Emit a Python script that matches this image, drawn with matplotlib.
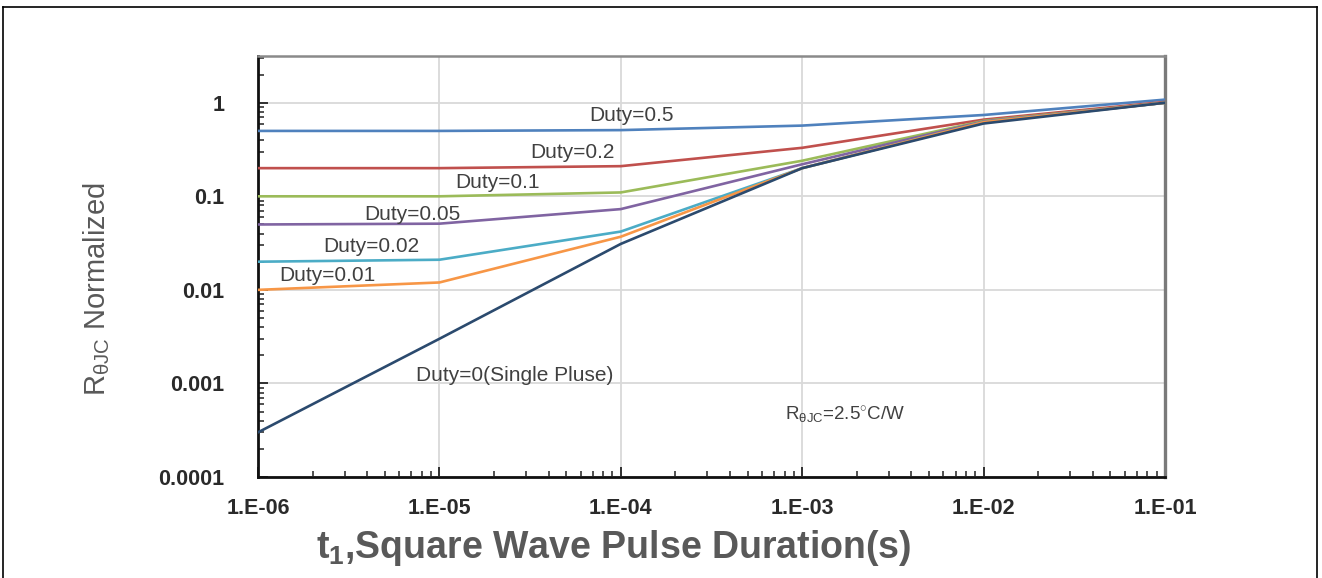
import numpy as np
import matplotlib
matplotlib.use('Agg')
import matplotlib.pyplot as plt
from matplotlib.lines import Line2D
from matplotlib.ticker import LogLocator, FixedLocator, NullFormatter

plt.rcParams['font.family'] = ['Liberation Sans', 'DejaVu Sans']
plt.rcParams['mathtext.fontset'] = 'custom'
plt.rcParams['mathtext.rm'] = 'Liberation Sans'
plt.rcParams['mathtext.it'] = 'Liberation Sans:italic'
plt.rcParams['mathtext.bf'] = 'Liberation Sans:bold'

# pulse duration (s)
pulse_t = [1e-6, 1e-5, 1e-4, 1e-3, 1e-2, 1e-1]

# normalised thermal impedance per duty cycle
duty_05 = [0.5, 0.5, 0.51, 0.57, 0.74, 1.08]
duty_02 = [0.2, 0.2, 0.21, 0.33, 0.66, 1.02]
duty_01 = [0.1, 0.1, 0.11, 0.24, 0.64, 1.0]
duty_005 = [0.05, 0.051, 0.073, 0.22, 0.63, 1.0]
duty_002 = [0.02, 0.021, 0.042, 0.2, 0.62, 1.0]
duty_001 = [0.01, 0.012, 0.037, 0.2, 0.62, 1.0]
duty_0 = [0.0003, 0.003, 0.031, 0.2, 0.6, 1.0]

series_names = ['Duty=0.5', 'Duty=0.2', 'Duty=0.1', 'Duty=0.05',
                'Duty=0.02', 'Duty=0.01', 'Duty=0(Single Pluse)']

xtick_vals = [1e-6, 1e-5, 1e-4, 1e-3, 1e-2, 1e-1]
xtick_labels = ['1.E-06', '1.E-05', '1.E-04', '1.E-03', '1.E-02', '1.E-01']
ytick_vals = [1e-4, 1e-3, 1e-2, 1e-1, 1]
ytick_labels = ['0.0001', '0.001', '0.01', '0.1', '1']

colors = ['#4F81BD', '#C0504D', '#9BBB59', '#8064A2', '#4BACC6', '#F79646', '#2B4A6E']

# label spots (data coords) for each curve
label_pos = [(1.14e-4, 0.726), (5.4e-5, 0.292), (2.08e-5, 0.139), (7.06e-6, 0.0634),
             (4.2e-6, 0.0288), (2.4e-6, 0.0141), (2.61e-5, 0.00123)]

fig = plt.figure(figsize=(13.22, 5.78), dpi=100)
W, H = 1322, 578
ax = fig.add_axes([258 / W, 1 - 477 / H, (1165 - 258) / W, (477 - 56) / H])

all_series = [duty_05, duty_02, duty_01, duty_005, duty_002, duty_001, duty_0]
for vals, c in zip(all_series, colors):
    ax.plot(pulse_t, vals, color=c, lw=1.9, zorder=3)

for name, (tx, ty) in zip(series_names, label_pos):
    ax.text(tx, ty, name, fontsize=15, color='#404040', ha='center', va='center', zorder=4)

ax.text(1.72e-3, 0.00046, 'R$_{\\mathregular{θJC}}$=2.5$^{\\circ}$C/W', fontsize=13.5,
        color='#404040', ha='center', va='center', zorder=4)

ax.set_xscale('log')
ax.set_yscale('log')
ax.set_xlim(1e-6, 1e-1)
ax.set_ylim(1e-4, 3.16)

ax.xaxis.set_major_locator(FixedLocator(xtick_vals))
ax.set_xticklabels(xtick_labels)
ax.yaxis.set_major_locator(FixedLocator(ytick_vals))
ax.set_yticklabels(ytick_labels)
ax.xaxis.set_minor_locator(LogLocator(base=10, subs=np.arange(2, 10)))
ax.yaxis.set_minor_locator(LogLocator(base=10, subs=np.arange(2, 10)))
ax.xaxis.set_minor_formatter(NullFormatter())
ax.yaxis.set_minor_formatter(NullFormatter())

ax.tick_params(axis='both', which='both', direction='in', colors='#222222')
ax.tick_params(axis='both', which='major', length=7, width=1.3)
ax.tick_params(axis='both', which='minor', length=4, width=1.1)
ax.tick_params(axis='x', which='major', pad=15, labelsize=15.5)
ax.tick_params(axis='y', which='major', pad=24, labelsize=15.5)
for lab in ax.get_xticklabels() + ax.get_yticklabels():
    lab.set_fontweight('bold')
    lab.set_color('#2a2a2a')

ax.grid(True, which='major', color='#d9d9d9', lw=1.3, zorder=0)
ax.set_axisbelow(True)

ax.spines['left'].set_color('#111111')
ax.spines['bottom'].set_color('#111111')
ax.spines['left'].set_linewidth(2)
ax.spines['bottom'].set_linewidth(2)
ax.spines['top'].set_color('#8a8a8a')
ax.spines['right'].set_color('#7a7a7a')
ax.spines['top'].set_linewidth(1.8)
ax.spines['right'].set_linewidth(2.4)

fig.text(97 / W, 1 - 289 / H, 'R$_{\\mathregular{θJC}}$ Normalized', rotation=90,
         fontsize=21, color='#595959', ha='center', va='center')
fig.text(614 / W, 1 - 548 / H, 't$_{\\mathbf{1}}$,Square Wave Pulse Duration(s)',
         fontsize=27, fontweight='bold', color='#595959', ha='center', va='center')

# outer frame (no bottom edge)
frame_kw = dict(color='black', lw=1.2, transform=fig.transFigure)
fig.add_artist(Line2D([3 / W, 3 / W], [0, 1 - 7 / H], **frame_kw))
fig.add_artist(Line2D([3 / W, 1317 / W], [1 - 7 / H, 1 - 7 / H], **frame_kw))
fig.add_artist(Line2D([1317 / W, 1317 / W], [0, 1 - 7 / H], **frame_kw))

fig.savefig('out.png', dpi=100)
